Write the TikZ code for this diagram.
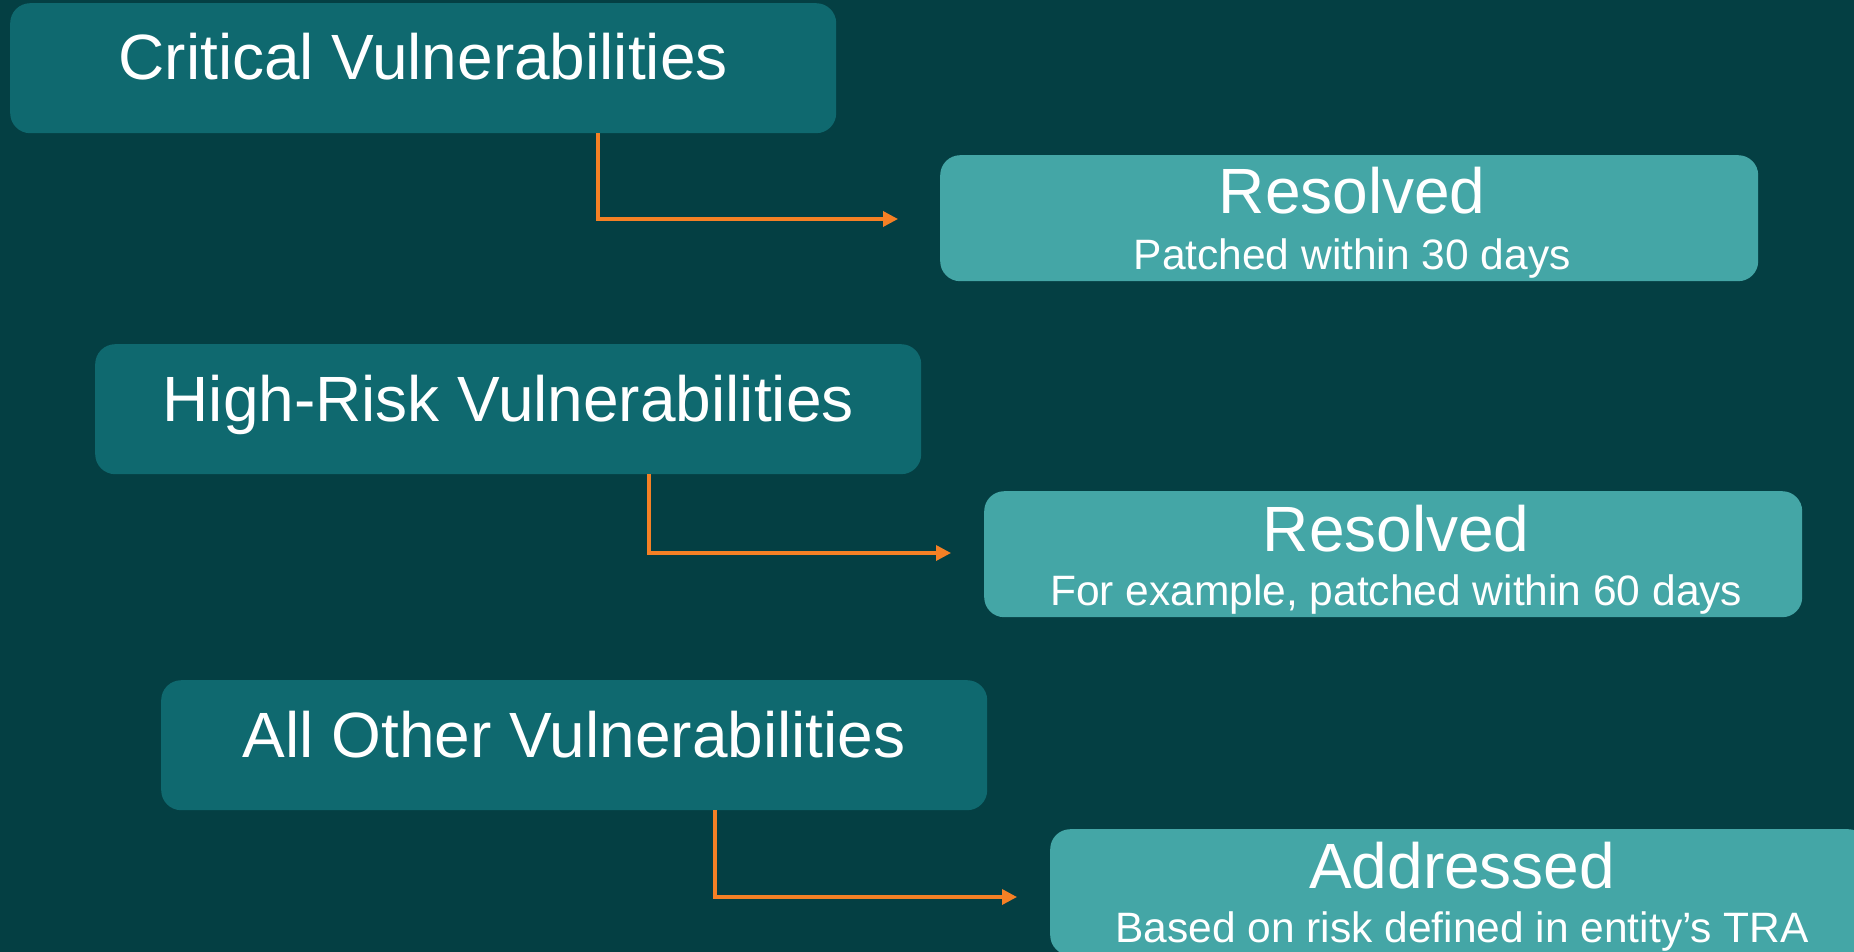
\documentclass[tikz,border=0pt]{standalone}
\usepackage{fontspec}
\setmainfont{Liberation Sans}
\usetikzlibrary{arrows.meta,calc}
\definecolor{bgteal}{HTML}{043F43}
\definecolor{darkteal}{HTML}{0F696F}
\definecolor{lightteal}{HTML}{44A6A6}
\definecolor{arroworange}{HTML}{F58025}
\begin{document}
\begin{tikzpicture}[x=1pt,y=-1pt,
  box/.style={rounded corners=20pt, inner sep=0pt, anchor=north west},
  catbox/.style={box, fill=darkteal, minimum width=826pt, minimum height=130pt},
  outbox/.style={box, fill=lightteal, minimum width=818pt, minimum height=126pt},
  headline/.style={text=white, anchor=base, inner sep=0pt, font=\fontsize{64}{70}\selectfont},
  detail/.style={text=white, anchor=base, inner sep=0pt, font=\fontsize{42.5}{48}\selectfont},
  link/.style={draw=arroworange, line width=3.4pt, -{Triangle[length=15pt,width=15pt]}}]
% page and background
\useasboundingbox (0,0) rectangle (1854,952);
\clip (0,0) rectangle (1854,952);
\fill[bgteal] (0,0) rectangle (1854,952);

% vulnerability categories
\node[catbox] (crit)  at (10,3)    {};
\node[catbox] (high)  at (95,344)  {};
\node[catbox] (other) at (161,680) {};
\node[headline] (critT)  at ($(crit.north)+(0,77)$)  {Critical Vulnerabilities};
\node[headline] (highT)  at ($(high.north)+(0,77)$)  {High-Risk Vulnerabilities};
\node[headline] (otherT) at ($(other.north)+(0,77)$) {All Other Vulnerabilities};

% required outcomes
\node[outbox] (res1) at (940,155)  {};
\node[outbox] (res2) at (984,491)  {};
\node[outbox] (addr) at (1050,829) {};
\node[headline] (res1T) at ($(res1.north)+(3,59)$)  {Resolved};
\node[detail]   (res1D) at ($(res1.north)+(3,114)$) {Patched within 30 days};
\node[headline] (res2T) at ($(res2.north)+(3,60)$)  {Resolved};
\node[detail]   (res2D) at ($(res2.north)+(3,114)$) {For example, patched within 60 days};
\node[headline] (addrT) at ($(addr.north)+(3,59)$)  {Addressed};
\node[detail]   (addrD) at ($(addr.north)+(3,113)$) {Based on risk defined in entity’s TRA};

% elbow connectors
\coordinate (k1) at (598,219);  \coordinate (e1) at (898,219);
\coordinate (k2) at (649,553);  \coordinate (e2) at (951,553);
\coordinate (k3) at (715,897);  \coordinate (e3) at (1017,897);
\draw[link] (crit.south -| k1)  -- (k1) -- (e1);
\draw[link] (high.south -| k2)  -- (k2) -- (e2);
\draw[link] (other.south -| k3) -- (k3) -- (e3);
\end{tikzpicture}
\end{document}
